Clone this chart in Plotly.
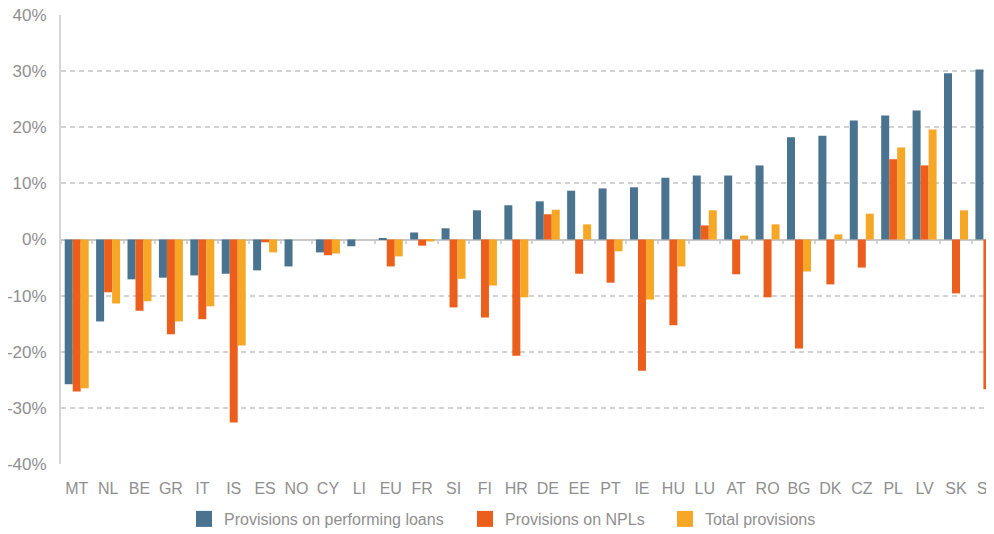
import plotly.graph_objects as go

countries = ["MT", "NL", "BE", "GR", "IT", "IS", "ES", "NO", "CY", "LI", "EU", "FR", "SI", "FI", "HR",
             "DE", "EE", "PT", "IE", "HU", "LU", "AT", "RO", "BG", "DK", "CZ", "PL", "LV", "SK", "SE"]
performing = [-25.8, -14.6, -7.1, -6.8, -6.4, -6.1, -5.5, -4.8, -2.3, -1.2, 0.2, 1.25, 2.0, 5.2, 6.1,
              6.8, 8.7, 9.1, 9.3, 11.0, 11.4, 11.4, 13.2, 18.2, 18.5, 21.2, 22.1, 23.0, 29.6, 30.3]
npl = [-27.1, -9.4, -12.7, -16.9, -14.2, -32.6, -0.5, 0.0, -2.8, 0.0, -4.8, -1.1, -12.1, -13.9, -20.7,
       4.5, -6.1, -7.7, -23.4, -15.3, 2.5, -6.2, -10.3, -19.4, -8.0, -5.0, 14.3, 13.2, -9.6, -26.7]
total = [-26.5, -11.4, -11.0, -14.6, -11.9, -18.9, -2.3, 0.0, -2.5, 0.0, -3.0, -0.35, -7.0, -8.2, -10.3,
         5.3, 2.7, -2.1, -10.7, -4.8, 5.2, 0.7, 2.7, -5.7, 0.9, 4.6, 16.4, 19.6, 5.2, -2.1]
series_names = ["Provisions on performing loans", "Provisions on NPLs", "Total provisions"]
y_ticks = [-40, -30, -20, -10, 0, 10, 20, 30, 40]
y_tick_labels = ["-40%", "-30%", "-20%", "-10%", "0%", "10%", "20%", "30%", "40%"]

colors = ["#49738F", "#EB5E1B", "#F6A725"]
FONT = "Liberation Sans, Arial, sans-serif"
GRAY = "#8f8f8f"

fig = go.Figure()
for name, vals, c in zip(series_names, [performing, npl, total], colors):
    fig.add_trace(go.Bar(x=countries, y=vals, name=name, showlegend=False,
                         marker=dict(color=c, line=dict(width=0))))

# legend entries (one legend per series so each can be placed)
legend_ids = ["legend", "legend2", "legend3"]
for name, c, lg in zip(series_names, colors, legend_ids):
    fig.add_trace(go.Scatter(x=[None], y=[None], name=name, mode="markers", legend=lg,
                             marker=dict(symbol="square", size=16, color=c), hoverinfo="skip"))

# invisible trace for the tick-mark axis at zero
fig.add_trace(go.Scatter(x=countries, y=[0] * len(countries), xaxis="x2", mode="markers",
                         marker=dict(opacity=0), showlegend=False, hoverinfo="skip"))

leg_common = dict(orientation="h", xref="container", yref="container", y=0.0285,
                  yanchor="middle", xanchor="left",
                  font=dict(size=16, color=GRAY), itemwidth=30, bgcolor="rgba(0,0,0,0)")

fig.update_layout(
    width=986, height=526,
    margin=dict(l=53, r=0, t=7, b=70),
    plot_bgcolor="white", paper_bgcolor="white",
    barmode="group", bargap=0.236, bargroupgap=0,
    font=dict(family=FONT, color=GRAY, size=16),
    xaxis=dict(type="category", categoryarray=countries, range=[-0.5, 29.21], automargin=False,
               showgrid=False, showline=False, zeroline=False, ticks="",
               ticklabeloverflow="allow",
               tickfont=dict(size=16, color=GRAY), ticklabelstandoff=13),
    xaxis2=dict(type="category", categoryarray=countries, matches="x", overlaying="x",
                anchor="free", position=0.5, showticklabels=False, showgrid=False, automargin=False,
                showline=False, zeroline=False, ticks="outside", ticklen=3, tickwidth=2,
                tickcolor="#d4d4d4", tickson="boundaries"),
    yaxis=dict(range=[-40, 40], tickvals=y_ticks, ticktext=y_tick_labels, automargin=False,
               showgrid=True, gridcolor="#d2d2d2", griddash="5px,4px", gridwidth=1.5,
               zeroline=True, zerolinecolor="#c8c8c8", zerolinewidth=2,
               showline=True, linecolor="#d6d6d6", linewidth=2,
               ticklabeloverflow="allow",
               ticks="", tickfont=dict(size=17, color=GRAY), ticklabelstandoff=9),
    legend=dict(x=0.1785, **leg_common),
    legend2=dict(x=0.4635, **leg_common),
    legend3=dict(x=0.6663, **leg_common),
)

fig.write_html("out.html")
